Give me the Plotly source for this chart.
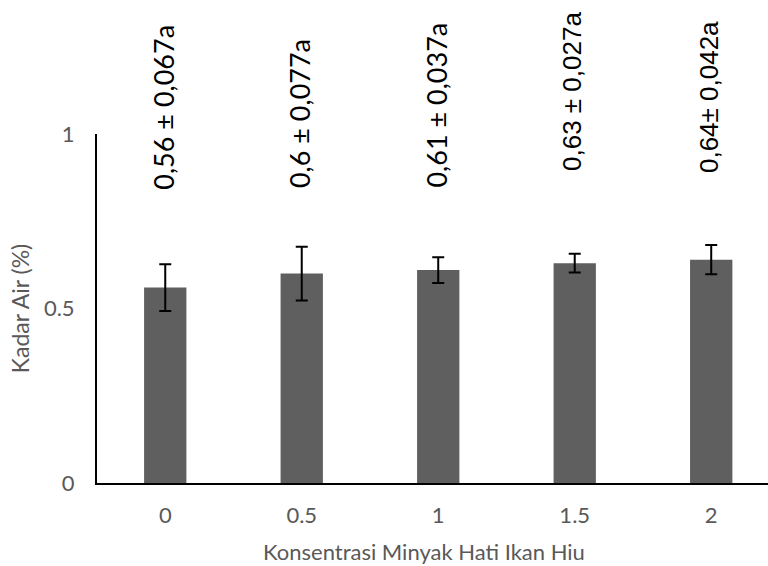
import plotly.graph_objects as go

# Kadar air per konsentrasi minyak hati ikan hiu
categories = ["0", "0.5", "1", "1.5", "2"]
kadar_air = [0.56, 0.60, 0.61, 0.63, 0.64]
std_dev = [0.067, 0.077, 0.037, 0.027, 0.042]
label_texts = [
    "0,56 ± 0,067a",
    "0,6 ± 0,077a",
    "0,61 ± 0,037a",
    "0,63 ± 0,027a",
    "0,64± 0,042a",
]
y_ticks = [0, 0.5, 1]

GRAY_TEXT = "#595959"
BAR_COLOR = "#5f5f5f"
SANS = "Lato, 'Open Sans', sans-serif"
ARIAL = "'Liberation Sans', Arial, sans-serif"

W, H = 768, 566
M_L, M_R, M_T, M_B = 97, 0, 134, 83
PLOT_W = W - M_L - M_R
PLOT_H = H - M_T - M_B

xpos = list(range(len(categories)))

fig = go.Figure()
fig.add_trace(
    go.Bar(
        x=xpos,
        y=kadar_air,
        width=0.31,
        marker=dict(color=BAR_COLOR, line=dict(width=0)),
        error_y=dict(
            type="data",
            array=std_dev,
            visible=True,
            color="#000000",
            thickness=2,
            width=6,
        ),
        showlegend=False,
        hoverinfo="skip",
    )
)

# Vertical value labels above each bar
label_fonts = [SANS, SANS, SANS, ARIAL, ARIAL]
label_sizes = [27, 27, 27, 26, 26]
label_base = [0.834, 0.84, 0.84, 0.889, 0.883]
for i, txt in enumerate(label_texts):
    fig.add_annotation(
        x=xpos[i],
        y=label_base[i],
        xref="x",
        yref="y",
        text=txt,
        textangle=-90,
        showarrow=False,
        xanchor="center",
        yanchor="bottom",
        xshift=-2,
        font=dict(family=label_fonts[i], size=label_sizes[i], color="#000000"),
    )

# Horizontal axis title, placed in paper coordinates of the plot area
fig.add_annotation(
    x=(424 - M_L) / PLOT_W,
    y=-(551 - (H - M_B)) / PLOT_H,
    xref="paper",
    yref="paper",
    text="Konsentrasi Minyak Hati Ikan Hiu",
    showarrow=False,
    xanchor="center",
    yanchor="middle",
    font=dict(family=SANS, size=22, color=GRAY_TEXT),
)

fig.update_layout(
    width=W,
    height=H,
    margin=dict(l=M_L, r=M_R, t=M_T, b=M_B),
    paper_bgcolor="#ffffff",
    plot_bgcolor="#ffffff",
    xaxis=dict(
        range=[-0.5, 4.416],
        tickmode="array",
        tickvals=xpos,
        ticktext=categories,
        showgrid=False,
        zeroline=False,
        showline=True,
        linecolor="#000000",
        linewidth=2,
        ticks="",
        ticklabelstandoff=12,
        tickfont=dict(family=SANS, size=22, color=GRAY_TEXT),
        fixedrange=True,
    ),
    yaxis=dict(
        range=[0, 1],
        tickmode="array",
        tickvals=y_ticks,
        ticktext=["0", "0.5", "1"],
        showgrid=False,
        zeroline=False,
        showline=True,
        linecolor="#000000",
        linewidth=2,
        ticks="",
        ticklabelstandoff=16,
        tickfont=dict(family=SANS, size=22, color=GRAY_TEXT),
        title=dict(
            text="Kadar Air (%)",
            font=dict(family=SANS, size=23, color=GRAY_TEXT),
            standoff=8,
        ),
        fixedrange=True,
    ),
)

fig.write_html("out.html", config={"displayModeBar": False})
